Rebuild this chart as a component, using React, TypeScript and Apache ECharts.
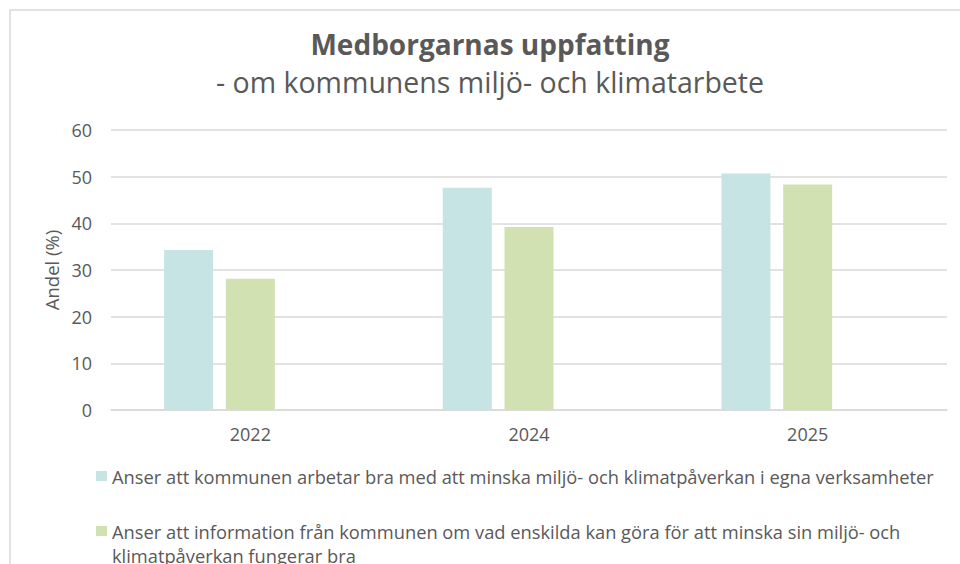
import React, { useEffect, useRef } from "react";
import * as echarts from "echarts";

const titleText = "Medborgarnas uppfatting";
const subtitleText = "- om kommunens miljö- och klimatarbete";
const yAxisName = "Andel (%)";
const categories = ["2022", "2024", "2025"];
const seriesNames = [
  "Anser att kommunen arbetar bra med att minska miljö- och klimatpåverkan i egna verksamheter",
  "Anser att information från kommunen om vad enskilda kan göra för att minska sin miljö- och klimatpåverkan fungerar bra",
];
const ownOperations = [34.3, 47.6, 50.7];
const informationWorks = [28.1, 39.2, 48.3];
const emptySlot = [null, null, null];

const TEXT = "#595959";
const FONT = "'Open Sans', 'Liberation Sans', sans-serif";

export default function App() {
  const ref = useRef<HTMLDivElement>(null);
  useEffect(() => {
    if (!ref.current) return;
    const chart = echarts.init(ref.current, undefined, { renderer: "svg" });
    chart.setOption({
      animation: false,
      backgroundColor: "#ffffff",
      textStyle: { fontFamily: FONT, color: TEXT },
      title: {
        text: titleText,
        subtext: subtitleText,
        left: 490,
        textAlign: "center",
        top: 28,
        itemGap: 6,
        padding: 0,
        textStyle: { fontFamily: FONT, fontSize: 28, fontWeight: "bold", color: TEXT, lineHeight: 32 },
        subtextStyle: { fontFamily: FONT, fontSize: 28.5, color: TEXT, lineHeight: 32 },
      },
      graphic: [
        {
          type: "rect",
          shape: { x: 10, y: 10, width: 1000, height: 700 },
          style: { fill: "none", stroke: "#d9d9d9", lineWidth: 1.5 },
          silent: true,
        },
      ],
      grid: { left: 111, right: 13, top: 130, bottom: 154, containLabel: false },
      xAxis: {
        type: "category",
        data: categories,
        axisTick: { show: false },
        axisLine: { lineStyle: { color: "#d9d9d9", width: 1.5 } },
        axisLabel: { color: TEXT, fontSize: 18, fontFamily: FONT, margin: 15 },
      },
      yAxis: {
        type: "value",
        min: 0,
        max: 60,
        interval: 10,
        name: yAxisName,
        nameLocation: "middle",
        nameGap: 50,
        nameTextStyle: { color: TEXT, fontSize: 18.5, fontFamily: FONT },
        axisLine: { show: false },
        axisTick: { show: false },
        axisLabel: { color: TEXT, fontSize: 18, fontFamily: FONT, margin: 19 },
        splitLine: { lineStyle: { color: "#d9d9d9", width: 1.5 } },
      },
      legend: {
        orient: "vertical",
        left: 96,
        top: 464,
        height: 300,
        padding: 0,
        itemWidth: 11,
        itemHeight: 10,
        itemGap: 7,
        icon: "rect",
        formatter: (name: string) => (name === seriesNames[1] ? "\n" + name : name),
        textStyle: { color: TEXT, fontSize: 18.3, fontFamily: FONT, lineHeight: 24 },
        data: [
          { name: seriesNames[0] },
          {
            name: seriesNames[1],
            textStyle: { width: 840, overflow: "break", lineHeight: 24 },
          },
        ],
      },
      series: [
        {
          name: seriesNames[0],
          type: "bar",
          data: ownOperations,
          barWidth: 49,
          barGap: "26%",
          itemStyle: { color: "#C5E4E3" },
        },
        {
          name: seriesNames[1],
          type: "bar",
          data: informationWorks,
          barWidth: 49,
          barGap: "26%",
          itemStyle: { color: "#D2E1B2" },
        },
        {
          name: "empty",
          type: "bar",
          data: emptySlot,
          barWidth: 49,
          barGap: "26%",
          itemStyle: { color: "#ffffff" },
        },
      ],
    });
    return () => chart.dispose();
  }, []);
  return (
    <div
      ref={ref}
      style={{ position: "fixed", left: 0, top: 0, width: 960, height: 564 }}
    />
  );
}
